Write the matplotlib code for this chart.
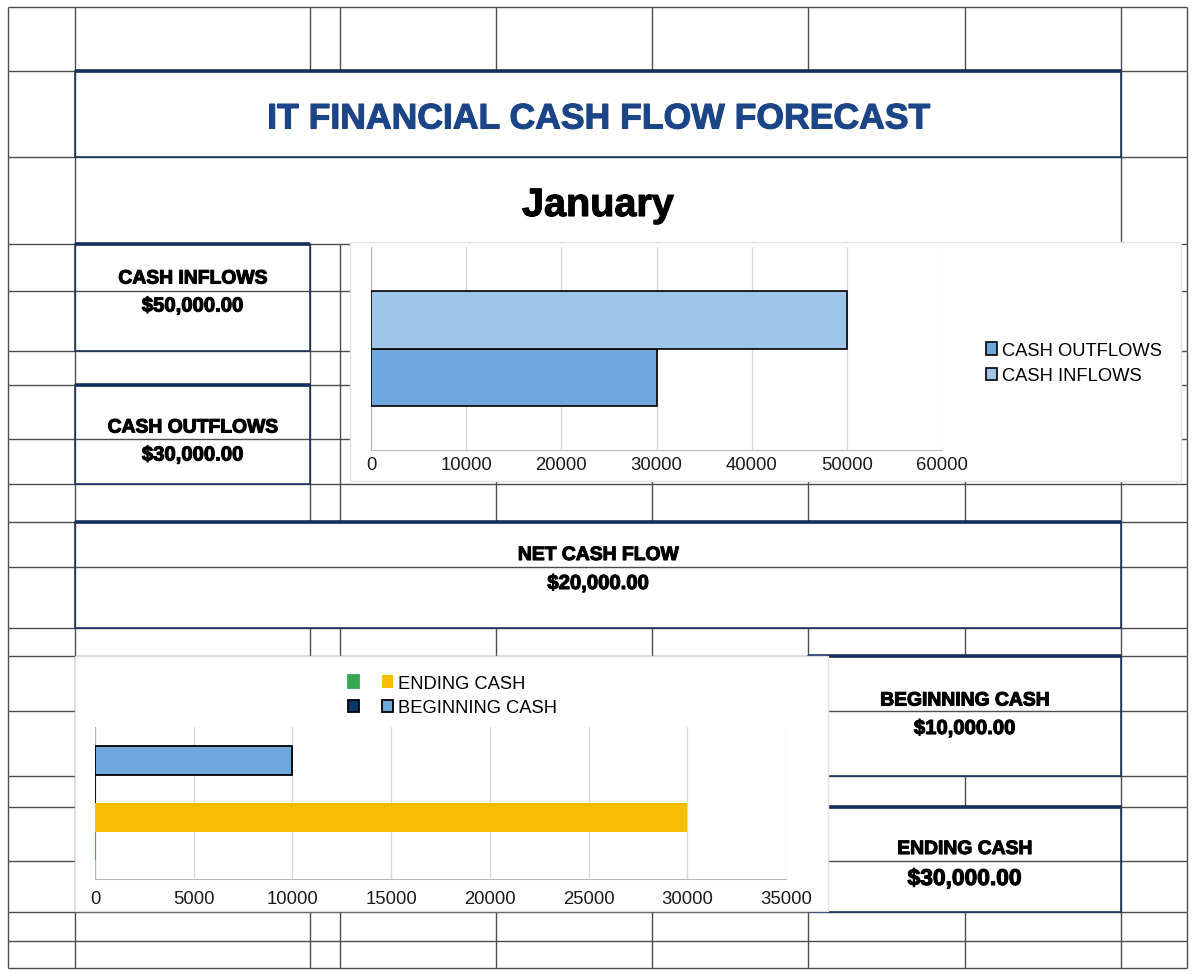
import matplotlib
matplotlib.use('Agg')
import matplotlib.pyplot as plt
import matplotlib.patheffects as pe
from matplotlib.patches import Rectangle
from matplotlib.collections import LineCollection

plt.rcParams['font.family'] = ['Liberation Sans', 'DejaVu Sans']

W, H = 1200, 978

title = 'IT FINANCIAL CASH FLOW FORECAST'
month = 'January'

# summary cells
cash_inflows = 50000
cash_outflows = 30000
net_cash_flow = 20000
beginning_cash = 10000
ending_cash = 30000

# chart 1: inflows vs outflows
flow_labels = ['CASH OUTFLOWS', 'CASH INFLOWS']
flow_values = [cash_outflows, cash_inflows]
flow_colors = ['#6fa8dc', '#9fc5e8']
flow_ticks = [0, 10000, 20000, 30000, 40000, 50000, 60000]

# chart 2: beginning / ending cash (two unnamed empty series)
cash_labels = [' ', 'ENDING CASH', ' ', 'BEGINNING CASH']
cash_values = [0, ending_cash, 0, beginning_cash]
cash_colors = ['#34a853', '#fbbc04', '#073763', '#6fa8dc']
cash_edges = ['#34a853', 'none', 'black', 'black']
cash_ticks = [0, 5000, 10000, 15000, 20000, 25000, 30000, 35000]

# sheet grid (pixel positions)
cols = [8, 75, 310, 340, 496, 652, 808, 965, 1121, 1187]
rows = [8, 72, 158, 245, 292, 352, 386, 440, 485, 523, 568, 629, 657, 712,
        777, 808, 862, 913, 942, 969]
merged = [(75, 1121, 72, 245), (75, 1121, 523, 629),
          (808, 1121, 657, 777), (808, 1121, 808, 913)]
boxes = [(75, 1121, 72, 158), (75, 310, 245, 352), (75, 310, 386, 485),
         (75, 1121, 523, 629), (808, 1121, 657, 777), (808, 1121, 808, 913)]

grid_color = '#4d4d4d'
navy = '#15305c'


def fig_rect(x0, y0, x1, y1):
    return [x0 / W, 1 - y1 / H, (x1 - x0) / W, (y1 - y0) / H]


fig = plt.figure(figsize=(W / 100, H / 100), dpi=100)
bg = fig.add_axes([0, 0, 1, 1])
bg.set_xlim(0, W)
bg.set_ylim(H, 0)
bg.axis('off')

segs = []
for y in rows:
    segs.append([(cols[0], y), (cols[-1], y)])
for x in cols:
    for y0, y1 in zip(rows[:-1], rows[1:]):
        hidden = any(m[0] < x < m[1] and m[2] <= y0 and y1 <= m[3] for m in merged)
        if not hidden:
            segs.append([(x, y0), (x, y1)])
bg.add_collection(LineCollection(segs, colors=grid_color, linewidths=1.0, zorder=1))

for x0, x1, y0, y1 in boxes:
    bg.plot([x0, x0, x1, x1], [y0, y1, y1, y0], color=navy, lw=1.1, zorder=2)
    bg.plot([x0, x1], [y0, y0], color=navy, lw=2.6, zorder=3, solid_capstyle='butt')

# chart panels
bg.add_patch(Rectangle((350, 243), 831, 239, facecolor='white', edgecolor='#e2e2e2', lw=1, zorder=5))
bg.add_patch(Rectangle((75, 657), 753, 255, facecolor='white', edgecolor='#e2e2e2', lw=1, zorder=5))

heavy = [pe.withStroke(linewidth=0.8, foreground='black')]
bg.text(598, 129.5, title, ha='center', va='baseline', fontsize=25.6, fontweight='bold',
        color='#1c4587', zorder=6,
        path_effects=[pe.withStroke(linewidth=0.8, foreground='#1c4587')])
bg.text(598, 217, month, ha='center', va='baseline', fontsize=28.5, fontweight='bold',
        color='black', zorder=6, path_effects=heavy)

cells = [
    (192.5, 284.5, 'CASH INFLOWS', cash_inflows, 14.6),
    (192.5, 433.5, 'CASH OUTFLOWS', cash_outflows, 14.6),
    (598, 561, 'NET CASH FLOW', net_cash_flow, 14.6),
    (964.5, 706.5, 'BEGINNING CASH', beginning_cash, 14.6),
    (964.5, 855, 'ENDING CASH', ending_cash, 16.4),
]
value_base = [312.5, 461.5, 590, 735, 886]
for (cx, ly, lab, val, vsize), vy in zip(cells, value_base):
    bg.text(cx, ly, lab, ha='center', va='baseline', fontsize=13.9, fontweight='bold',
            zorder=6, path_effects=heavy)
    bg.text(cx, vy, '${:,.2f}'.format(val), ha='center', va='baseline', fontsize=vsize,
            fontweight='bold', zorder=6, path_effects=heavy)

# chart 1
ax1 = fig.add_axes(fig_rect(371, 248, 942, 451))
ax1.set_facecolor('none')
h1 = 0.57
bars1 = []
for i, (lab, v, c) in enumerate(zip(flow_labels, flow_values, flow_colors)):
    b = ax1.barh((i - 0.5) * h1, v, height=h1, color=c, edgecolor='black', lw=1.2,
                 label=lab, zorder=3)
    bars1.append(b)
ax1.set_xlim(flow_ticks[0], flow_ticks[-1])
ax1.set_ylim(-1, 1)
ax1.set_xticks(flow_ticks)
ax1.set_yticks([])
ax1.grid(axis='x', color='#d9d9d9', lw=1.0, zorder=0)
ax1.set_axisbelow(True)
for s in ['top', 'right']:
    ax1.spines[s].set_visible(False)
for s in ['left', 'bottom']:
    ax1.spines[s].set_color('#b7b7b7')
ax1.tick_params(axis='x', length=0, pad=4, labelsize=13.3, labelcolor='#1a1a1a')
ax1.legend(handles=bars1, labels=flow_labels, loc='upper left',
           bbox_to_anchor=(986 / W, 1 - 343 / H), bbox_transform=fig.transFigure,
           frameon=False, fontsize=13.2, handlelength=0.6, handleheight=0.65,
           handletextpad=0.3, labelspacing=0.45, borderpad=0, borderaxespad=0)

# chart 2
ax2 = fig.add_axes(fig_rect(95, 728, 786, 880))
ax2.set_facecolor('none')
h2 = 0.375
bars2 = []
for i, (v, c, e) in enumerate(zip(cash_values, cash_colors, cash_edges)):
    b = ax2.barh((i - 1.5) * h2, v, height=h2, color=c, edgecolor=e, lw=1.3, zorder=3)
    bars2.append(b)
ax2.set_xlim(cash_ticks[0], cash_ticks[-1])
ax2.set_ylim(-1, 1)
ax2.set_xticks(cash_ticks)
ax2.set_yticks([])
ax2.grid(axis='x', color='#d9d9d9', lw=1.0, zorder=0)
ax2.set_axisbelow(True)
for s in ['top', 'right']:
    ax2.spines[s].set_visible(False)
for s in ['left', 'bottom']:
    ax2.spines[s].set_color('#b7b7b7')
ax2.tick_params(axis='x', length=0, pad=8, labelsize=13.3, labelcolor='#1a1a1a')
ax2.legend(handles=[bars2[0], bars2[2], bars2[1], bars2[3]],
           labels=[cash_labels[0], cash_labels[2], cash_labels[1], cash_labels[3]],
           ncol=2, loc='upper left', bbox_to_anchor=(348 / W, 1 - 676 / H),
           bbox_transform=fig.transFigure, frameon=False, fontsize=13.2,
           handlelength=0.6, handleheight=0.65, handletextpad=0.3, labelspacing=0.4,
           columnspacing=0.65, borderpad=0, borderaxespad=0)

fig.savefig('out.png', dpi=100)
